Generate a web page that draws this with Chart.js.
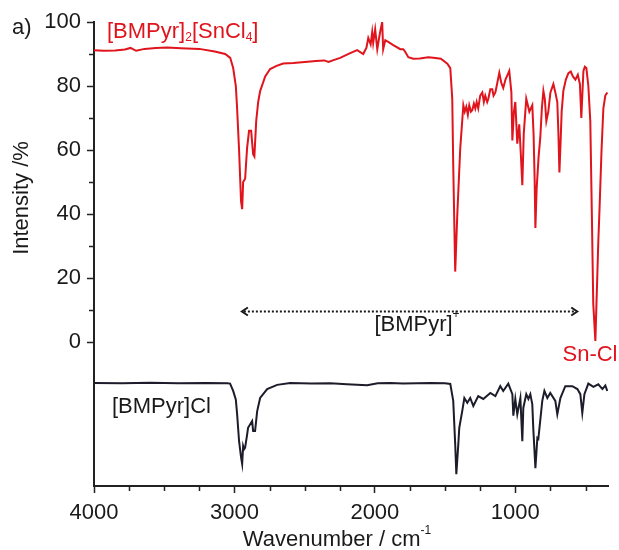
<!DOCTYPE html>
<html>
<head>
<meta charset="utf-8">
<script src="https://cdn.jsdelivr.net/npm/chart.js@4/dist/chart.umd.min.js"></script>
<style>
  body { margin: 0; background: #fff; }
  #wrap { width: 619px; height: 550px; position: relative; }
</style>
</head>
<body>
<div id="wrap"><canvas id="ir"></canvas></div>
<script>
// [BMPyr]2[SnCl4] spectrum (red)
const saltWavenumber = [4000, 3930, 3850, 3780, 3740, 3700, 3640, 3560, 3480, 3380, 3250, 3140, 3066, 3030, 3009, 2990, 2981, 2967, 2953, 2945, 2938, 2924, 2910, 2896, 2881, 2867, 2858, 2845, 2831, 2817, 2781, 2746, 2700, 2653, 2580, 2500, 2420, 2360, 2330, 2300, 2247, 2176, 2126, 2083, 2060, 2047, 2030, 2019, 2012, 1998, 1983, 1970, 1962, 1948, 1941, 1926, 1905, 1869, 1819, 1798, 1784, 1762, 1727, 1680, 1620, 1584, 1530, 1484, 1463, 1449, 1442, 1428, 1413, 1392, 1370, 1360, 1349, 1338, 1328, 1316, 1306, 1295, 1285, 1275, 1264, 1250, 1235, 1224, 1214, 1200, 1192, 1178, 1164, 1155, 1142, 1128, 1114, 1100, 1086, 1070, 1043, 1028, 1021, 1010, 1000, 986, 972, 960, 950, 940, 922, 900, 879, 870, 862, 857, 848, 834, 822, 811, 800, 790, 779, 765, 750, 729, 715, 701, 693, 686, 678, 670, 658, 640, 622, 605, 590, 572, 555, 540, 530, 522, 515, 505, 494, 480, 466, 455, 445, 430, 418, 409, 400, 386, 373, 359, 345];
const saltIntensity = [91.2, 91.0, 91.1, 91.4, 91.9, 91.0, 91.6, 91.9, 92.0, 91.8, 91.6, 90.8, 90.0, 88.8, 85.6, 80, 73, 60, 44, 41.5, 50, 51, 60.6, 66, 66, 58.7, 58, 69, 75, 78.4, 83, 85.3, 86.3, 87, 87.2, 87.5, 87.8, 88, 87.5, 88, 88.8, 90.3, 91.2, 90, 92, 95, 93, 96.8, 93.5, 97.7, 91.5, 95, 97, 100, 91.5, 94.3, 93.8, 92.8, 91.5, 91.5, 90.7, 89, 88.5, 88.6, 89, 88.8, 88.5, 87, 85.6, 76, 55, 22, 40, 60.6, 74, 72, 73.5, 71, 74, 72, 72.5, 74.5, 73, 75, 73, 77, 78, 75, 77, 75, 76, 79, 79, 77, 78, 81, 84.1, 81, 79.4, 82, 84.7, 78, 63, 72, 75, 62, 68, 58, 49, 65, 76, 72, 74, 65, 50, 35.6, 48, 58, 64, 73, 78.5, 76, 69, 72, 78, 80.6, 78, 75, 65, 53, 62, 72, 78.5, 82, 84, 84.5, 83, 82, 83.5, 80.6, 70, 78, 84.7, 86, 85.6, 80, 69, 40, 12, 0.3, 18, 31.5, 42, 60, 73, 77, 78];

// [BMPyr]Cl spectrum (black, offset below)
const chlorideWavenumber = [4000, 3800, 3600, 3400, 3200, 3050, 3031, 3009, 2990, 2981, 2967, 2953, 2945, 2938, 2931, 2924, 2910, 2903, 2874, 2867, 2853, 2838, 2817, 2767, 2696, 2603, 2450, 2318, 2200, 2055, 1980, 1891, 1800, 1700, 1600, 1500, 1463, 1442, 1428, 1420, 1406, 1399, 1378, 1363, 1342, 1321, 1299, 1264, 1228, 1178, 1142, 1107, 1086, 1050, 1021, 1014, 1000, 986, 964, 950, 943, 922, 907, 893, 879, 872, 857, 843, 836, 808, 793, 772, 751, 715, 701, 679, 644, 594, 558, 537, 523, 508, 480, 444, 409, 380, 359, 345];
const chlorideIntensity = [-12.8, -12.9, -12.7, -12.9, -12.8, -12.9, -13, -15.3, -18, -22.5, -31, -36, -38.1, -32.5, -33.5, -33, -29, -26.8, -24.7, -27.8, -27.8, -21.6, -17.5, -14.7, -13.4, -12.8, -13, -12.9, -13.2, -13.5, -12.9, -12.8, -13, -12.9, -12.8, -12.9, -13.1, -18.4, -32, -41.3, -32, -26.8, -21.6, -17.5, -19, -17.5, -20, -16.9, -17.8, -15.9, -16.9, -13.8, -15.3, -13, -16.3, -23, -17.8, -22.6, -17.5, -31, -20.6, -16.3, -17.8, -16.3, -19.5, -27, -39.4, -30, -30.3, -18.4, -15.3, -17.5, -15.9, -18.4, -22.6, -17.5, -13.8, -13.8, -14.7, -16.3, -22.2, -16.3, -13, -14, -13.2, -14.7, -13.6, -15.3];

const xTicks = [4000, 3000, 2000, 1000];
const xMinorTicks = [3750, 3500, 3250, 2750, 2500, 2250, 1750, 1500, 1250, 750, 500];
const yTicks = [0, 20, 40, 60, 80, 100];
const yMinorTicks = [10, 30, 50, 70, 90];

const FONT = '"Liberation Sans", Arial, Helvetica, sans-serif';
const RED = '#e0141c';
const INK = '#1a1a1a';

// draws minor ticks, labels, the cation range arrow and axis titles
const extrasPlugin = {
  id: 'extras',
  afterDraw(chart) {
    const ctx = chart.ctx;
    const x = chart.scales.x, y = chart.scales.y;
    const area = chart.chartArea;
    ctx.save();

    ctx.strokeStyle = '#222';
    ctx.lineWidth = 1.5;
    ctx.beginPath();
    xMinorTicks.forEach(v => {
      const px = Math.round(x.getPixelForValue(v)) + 0.5;
      ctx.moveTo(px, area.bottom);
      ctx.lineTo(px, area.bottom + 5);
    });
    yMinorTicks.forEach(v => {
      const py = Math.round(y.getPixelForValue(v)) + 0.5;
      ctx.moveTo(area.left, py);
      ctx.lineTo(area.left - 5, py);
    });
    ctx.stroke();

    const big = '22px ' + FONT, small = '12px ' + FONT;
    ctx.textBaseline = 'middle';
    ctx.fillStyle = INK;
    ctx.font = big;
    ctx.textAlign = 'left';
    ctx.fillText('a)', 12, 28);

    // [BMPyr]2[SnCl4] label with subscripts
    const parts = [['[BMPyr]', big, 0], ['2', small, 6], ['[SnCl', big, 0], ['4', small, 6], [']', big, 0]];
    let cx = 107;
    ctx.fillStyle = RED;
    parts.forEach(([t, f, dy]) => {
      ctx.font = f;
      ctx.fillText(t, cx, 32 + dy);
      cx += ctx.measureText(t).width;
    });

    ctx.font = big;
    ctx.textAlign = 'center';
    ctx.fillText('Sn-Cl', 590, 355);

    ctx.fillStyle = INK;
    ctx.textAlign = 'left';
    ctx.fillText('[BMPyr]Cl', 112, 407);

    // [BMPyr]+ range arrow
    const ax1 = x.getPixelForValue(2947), ax2 = x.getPixelForValue(559);
    const ay = Math.round(y.getPixelForValue(9.7)) + 0.5;
    ctx.strokeStyle = INK;
    ctx.lineWidth = 2;
    ctx.setLineDash([2, 2]);
    ctx.beginPath();
    ctx.moveTo(ax1 + 2, ay);
    ctx.lineTo(ax2 - 2, ay);
    ctx.stroke();
    ctx.setLineDash([]);
    ctx.beginPath();
    ctx.moveTo(ax1 + 6, ay - 4); ctx.lineTo(ax1, ay); ctx.lineTo(ax1 + 6, ay + 4);
    ctx.moveTo(ax2 - 6, ay - 4); ctx.lineTo(ax2, ay); ctx.lineTo(ax2 - 6, ay + 4);
    ctx.stroke();

    ctx.font = big;
    const t1 = '[BMPyr]';
    const w1 = ctx.measureText(t1).width;
    ctx.font = small;
    const w2 = ctx.measureText('+').width;
    const sx = 417 - (w1 + w2) / 2;
    ctx.font = big;
    ctx.fillText(t1, sx, 325);
    ctx.font = small;
    ctx.fillText('+', sx + w1, 315);

    // axis titles
    ctx.font = big;
    const tw = ctx.measureText('Wavenumber / cm').width;
    ctx.font = small;
    const sw = ctx.measureText('-1').width;
    const tx = 337 - (tw + sw) / 2;
    ctx.font = big;
    ctx.fillText('Wavenumber / cm', tx, 540);
    ctx.font = small;
    ctx.fillText('-1', tx + tw, 531);

    ctx.translate(22, 198);
    ctx.rotate(-Math.PI / 2);
    ctx.font = big;
    ctx.textAlign = 'center';
    ctx.fillText('Intensity /%', 0, 0);
    ctx.restore();
  }
};

const toPoints = (xs, ys) => xs.map((v, i) => ({ x: v, y: ys[i] }));

new Chart(document.getElementById('ir'), {
  type: 'line',
  data: {
    datasets: [
      {
        label: '[BMPyr]2[SnCl4]',
        data: toPoints(saltWavenumber, saltIntensity),
        borderColor: RED,
        borderWidth: 2,
        pointRadius: 0,
        tension: 0
      },
      {
        label: '[BMPyr]Cl',
        data: toPoints(chlorideWavenumber, chlorideIntensity),
        borderColor: '#1c1c2a',
        borderWidth: 2,
        pointRadius: 0,
        tension: 0
      }
    ]
  },
  options: {
    responsive: true,
    maintainAspectRatio: false,
    animation: false,
    layout: { padding: { left: 0, right: 11, top: 22, bottom: 0 } },
    plugins: { legend: { display: false }, tooltip: { enabled: false } },
    scales: {
      x: {
        type: 'linear',
        reverse: true,
        min: 340,
        max: 4000,
        afterBuildTicks: s => { s.ticks = xTicks.map(v => ({ value: v })); },
        afterFit: s => { s.height = 64; },
        ticks: { color: INK, font: { size: 22, family: FONT }, padding: 7, maxRotation: 0, callback: v => String(v) },
        grid: { drawOnChartArea: false, drawTicks: true, tickLength: 7, tickColor: '#222', tickWidth: 1.5 },
        border: { display: true, color: '#222', width: 2 }
      },
      y: {
        type: 'linear',
        min: -45,
        max: 100,
        afterBuildTicks: s => { s.ticks = yTicks.map(v => ({ value: v })); },
        afterFit: s => { s.width = 94; },
        ticks: { color: INK, font: { size: 22, family: FONT }, padding: 6, callback: v => String(v) },
        grid: { drawOnChartArea: false, drawTicks: true, tickLength: 7, tickColor: '#222', tickWidth: 1.5 },
        border: { display: true, color: '#222', width: 2 }
      }
    }
  },
  plugins: [extrasPlugin]
});
</script>
</body>
</html>
